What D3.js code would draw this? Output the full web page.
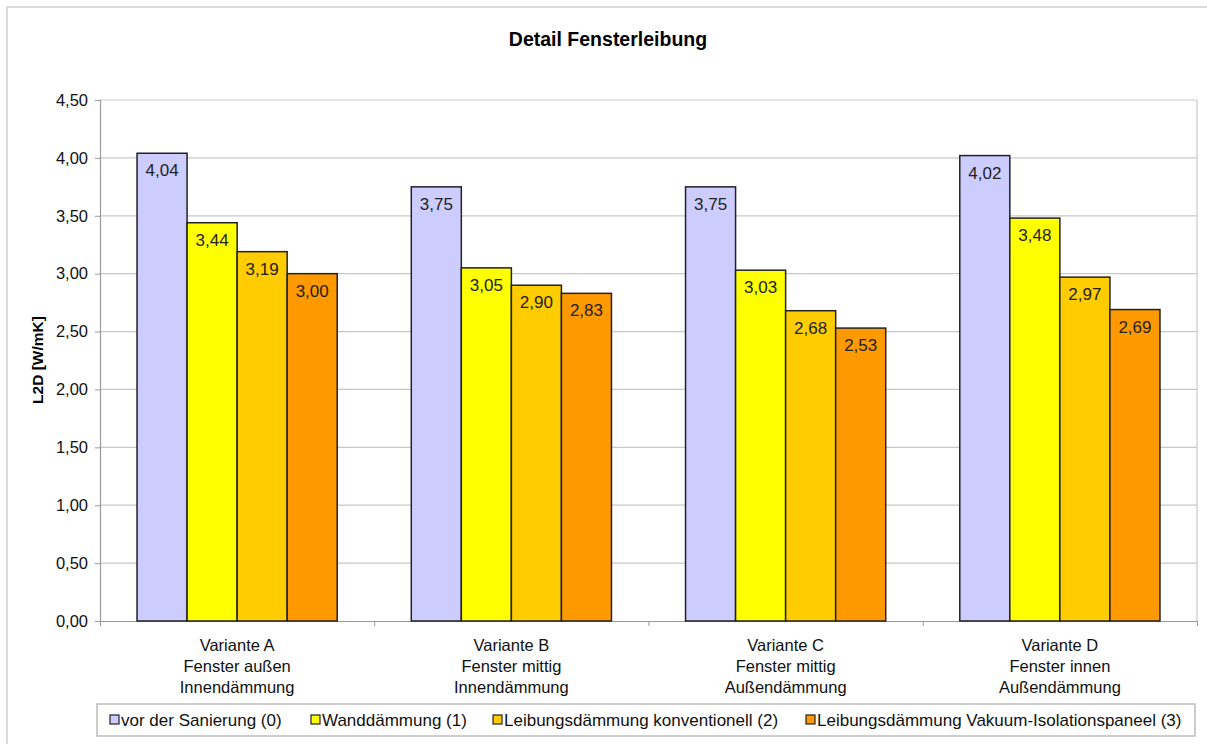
<!DOCTYPE html>
<html lang="de">
<head>
<meta charset="UTF-8">
<title>Detail Fensterleibung</title>
<style>
  body { margin: 0; background: #fff; }
  svg { font-family: "Liberation Sans", Arial, sans-serif; }
</style>
</head>
<body>
<div id="chart"></div>
<script src="https://d3js.org/d3.v7.min.js"></script>
<script>
// data
var categories = [
    ["Variante A", "Fenster außen", "Innendämmung"],
    ["Variante B", "Fenster mittig", "Innendämmung"],
    ["Variante C", "Fenster mittig", "Außendämmung"],
    ["Variante D", "Fenster innen", "Außendämmung"]
];
var seriesNames = [
    "vor der Sanierung (0)",
    "Wanddämmung (1)",
    "Leibungsdämmung konventionell (2)",
    "Leibungsdämmung Vakuum-Isolationspaneel (3)"
];
var vorSanierung   = [4.04, 3.75, 3.75, 4.02];
var wanddaemmung   = [3.44, 3.05, 3.03, 3.48];
var leibungKonv    = [3.19, 2.90, 2.68, 2.97];
var leibungVakuum  = [3.00, 2.83, 2.53, 2.69];
var yTicks = [0, 0.5, 1, 1.5, 2, 2.5, 3, 3.5, 4, 4.5];

var seriesValues = [vorSanierung, wanddaemmung, leibungKonv, leibungVakuum];
var colors = ["#ccccff", "#ffff00", "#ffcc00", "#ff9900"];

var W = 1207, H = 744;
var plot = {left: 100, right: 1197, top: 100, bottom: 621};

var svg = d3.select("#chart").append("svg")
    .attr("width", W)
    .attr("height", H);

// outer frame
svg.append("rect")
    .attr("x", 7).attr("y", 7)
    .attr("width", 1250).attr("height", 800)
    .attr("fill", "none")
    .attr("stroke", "#cfcfcf")
    .attr("stroke-width", 1.5);

// title
svg.append("text")
    .attr("x", 608)
    .attr("y", 46)
    .attr("text-anchor", "middle")
    .style("font-size", "19.5px")
    .style("font-weight", "bold")
    .text("Detail Fensterleibung");

var x0 = d3.scaleBand()
    .domain(d3.range(categories.length))
    .range([plot.left, plot.right])
    .paddingInner(0).paddingOuter(0);

var x1 = d3.scaleBand()
    .domain(d3.range(seriesNames.length))
    .range([0, x0.bandwidth()])
    .paddingInner(0)
    .paddingOuter(0.74);

var y = d3.scaleLinear()
    .domain([0, 4.5])
    .range([plot.bottom, plot.top]);

var fmt = function (v) { return d3.format(".2f")(v).replace(".", ","); };

// gridlines
svg.append("g")
    .selectAll("line")
    .data(yTicks.slice(1))
    .enter().append("line")
    .attr("x1", plot.left).attr("x2", plot.right)
    .attr("y1", function (d) { return y(d); })
    .attr("y2", function (d) { return y(d); })
    .attr("stroke", "#c8c8c8")
    .attr("stroke-width", 1.2);

// right border of plot area
svg.append("line")
    .attr("x1", plot.right).attr("x2", plot.right)
    .attr("y1", plot.top).attr("y2", plot.bottom)
    .attr("stroke", "#c8c8c8")
    .attr("stroke-width", 1.2);

// y axis
var yAxis = svg.append("g")
    .attr("transform", "translate(" + plot.left + ",0)")
    .call(d3.axisLeft(y).tickValues(yTicks).tickFormat(fmt).tickSize(5).tickPadding(7));
yAxis.selectAll("text").style("font-size", "16.5px").attr("fill", "#111");
yAxis.selectAll("line").attr("stroke", "#999");
yAxis.select(".domain").attr("stroke", "#999").attr("stroke-width", 1.2);

// x axis with ticks at the group boundaries
var xBound = d3.scaleLinear().domain([0, categories.length]).range([plot.left, plot.right]);
var xAxis = svg.append("g")
    .attr("transform", "translate(0," + plot.bottom + ")")
    .call(d3.axisBottom(xBound).tickValues(d3.range(categories.length + 1)).tickFormat("").tickSize(5).tickSizeOuter(0));
xAxis.selectAll("line").attr("stroke", "#999");
xAxis.select(".domain").attr("stroke", "#999").attr("stroke-width", 1.2);

// category labels
categories.forEach(function (lines, i) {
    var t = svg.append("text")
        .attr("text-anchor", "middle")
        .attr("x", x0(i) + x0.bandwidth() / 2)
        .attr("y", 651)
        .style("font-size", "16.5px")
        .attr("fill", "#111");
    lines.forEach(function (l, k) {
        t.append("tspan")
            .attr("x", x0(i) + x0.bandwidth() / 2)
            .attr("dy", k === 0 ? 0 : 21)
            .text(l);
    });
});

// y axis title
svg.append("text")
    .attr("transform", "translate(43,360) rotate(-90)")
    .attr("text-anchor", "middle")
    .style("font-size", "15.5px")
    .style("font-weight", "bold")
    .text("L2D [W/mK]");

// bars
var groups = svg.append("g")
    .selectAll("g")
    .data(categories)
    .enter().append("g")
    .attr("transform", function (d, i) { return "translate(" + x0(i) + ",0)"; });

groups.each(function (d, i) {
    var g = d3.select(this);
    seriesValues.forEach(function (vals, s) {
        g.append("rect")
            .attr("x", x1(s))
            .attr("y", y(vals[i]))
            .attr("width", x1.bandwidth())
            .attr("height", y(0) - y(vals[i]))
            .attr("fill", colors[s])
            .attr("stroke", "#222")
            .attr("stroke-width", 1.5);
        g.append("text")
            .attr("x", x1(s) + x1.bandwidth() / 2)
            .attr("y", y(vals[i]) + 23)
            .attr("text-anchor", "middle")
            .style("font-size", "17px")
            .attr("fill", "#222")
            .text(fmt(vals[i]));
    });
});

// legend
var legendX = [110, 311, 493, 806];
svg.append("rect")
    .attr("x", 97).attr("y", 704)
    .attr("width", 1098).attr("height", 32)
    .attr("fill", "#fff")
    .attr("stroke", "#bdbdbd")
    .attr("stroke-width", 1.5);

var leg = svg.append("g")
    .selectAll("g")
    .data(seriesNames)
    .enter().append("g")
    .attr("transform", function (d, i) { return "translate(" + legendX[i] + ",0)"; });
leg.append("rect")
    .attr("x", 0).attr("y", 715)
    .attr("width", 9).attr("height", 9)
    .attr("fill", function (d, i) { return colors[i]; })
    .attr("stroke", "#222")
    .attr("stroke-width", 1.2);
leg.append("text")
    .attr("x", 11)
    .attr("y", 726)
    .style("font-size", "17px")
    .attr("fill", "#111")
    .text(function (d) { return d; });
</script>
</body>
</html>
